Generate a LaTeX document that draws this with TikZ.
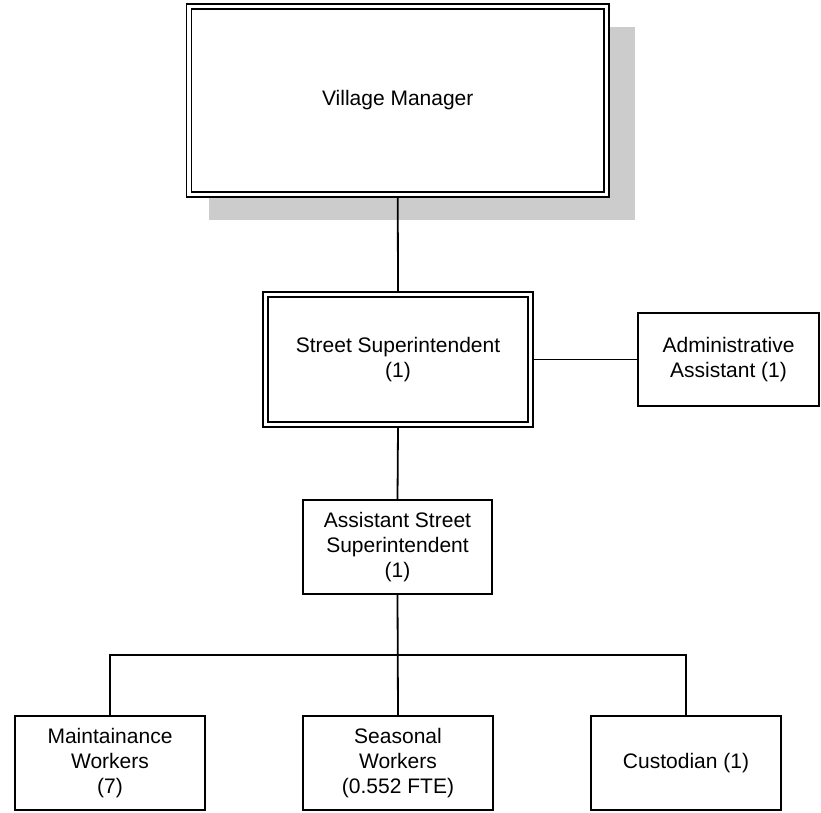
\documentclass[tikz,border=0pt]{standalone}
\usepackage{fontspec}
\setmainfont{Liberation Sans}
\usetikzlibrary{backgrounds}
\definecolor{shadowgray}{HTML}{CCCCCC}
\begin{document}
\begin{tikzpicture}[x=1pt,y=-1pt,
  box/.style={draw=black, line width=1.8pt, fill=white, inner sep=0pt,
    align=center, font=\fontsize{21}{25}\selectfont},
  dbox/.style={box, line width=1.3pt, double=white, double distance=3.5pt,
    outer sep=3.05pt},
  link/.style={draw=black, line width=1.8pt}]
\useasboundingbox (0,0) rectangle (821,812);

% boxes
\node[dbox, minimum width=417.5pt, minimum height=188pt] (vm) at (397.75,100.5) {Village Manager};
\node[dbox, minimum width=265pt, minimum height=130pt] (ss) at (398,359.5) {Street Superintendent\\(1)};
\node[box, minimum width=181pt, minimum height=93pt] (admin) at (728.5,359.5) {Administrative\\Assistant (1)};
\node[box, minimum width=189pt, minimum height=94pt] (asst) at (397.5,547) {Assistant Street\\Superintendent\\(1)};
\node[box, minimum width=190pt, minimum height=94pt] (maint) at (110,763) {Maintainance\\Workers\\(7)};
\node[box, minimum width=190pt, minimum height=94pt] (season) at (398,763) {Seasonal\\Workers\\(0.552 FTE)};
\node[box, minimum width=190pt, minimum height=94pt] (cust) at (686,763) {Custodian (1)};
\coordinate (bus) at (398,655);

% drop shadow behind the top box
\begin{scope}[on background layer]
  \fill[shadowgray] ([shift={(23.5,23.5)}]vm.north west) rectangle ([shift={(25,22.5)}]vm.south east);
\end{scope}

% connectors
\draw[link] (vm.south) -- (ss.north);
\draw[link] (ss.east) -- (admin.west);
\draw[link] (ss.south) -- (asst.north);
\draw[link] (asst.south) -- (season.north);
\draw[link] (maint.north) |- (bus) -| (cust.north);
\end{tikzpicture}
\end{document}
